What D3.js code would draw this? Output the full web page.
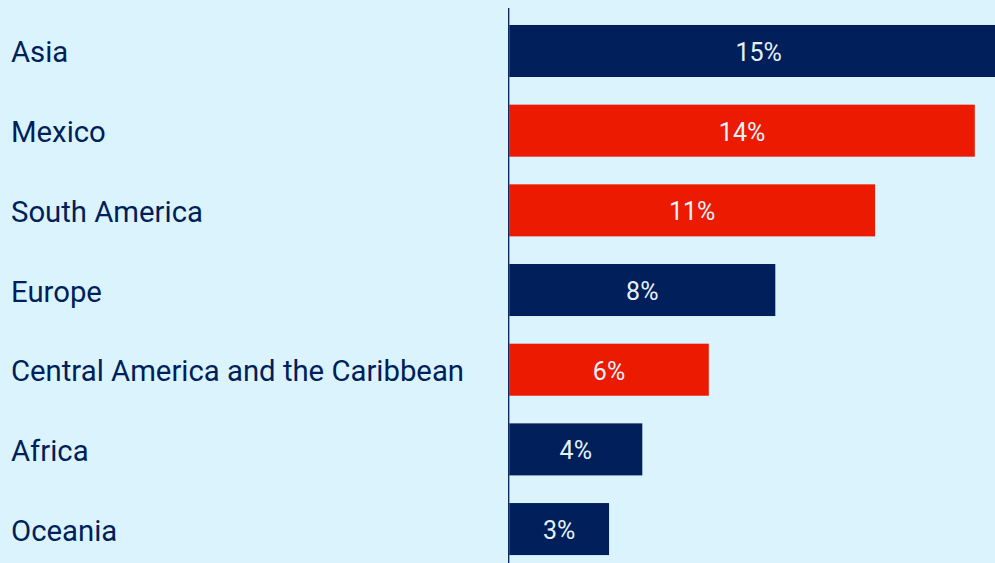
<!DOCTYPE html>
<html>
<head>
<meta charset="utf-8">
<script src="https://cdn.jsdelivr.net/npm/d3@7"></script>
<style>
  html, body { margin: 0; padding: 0; background: #dbf3fc; overflow: hidden; }
  svg { display: block; }
</style>
</head>
<body>
<svg id="chart" width="995" height="563"></svg>
<script>
// Share of total by region (%)
const regions = ["Asia", "Mexico", "South America", "Europe", "Central America and the Caribbean", "Africa", "Oceania"];
const shares = [15, 14, 11, 8, 6, 4, 3];
const highlight = [false, true, true, false, true, false, false];

const width = 995, height = 563;
const navy = "#001f5b", red = "#ec1a00", bg = "#dbf3fc", valueInk = "#e4f2fb";
const fontFamily = "Roboto, 'Noto Sans', sans-serif";

const svg = d3.select("#chart");
svg.append("rect").attr("width", width).attr("height", height).attr("fill", bg);

const x = d3.scaleLinear().domain([0, 1]).range([509.3, 509.3 + 33.25]);
const y = d3.scaleBand().domain(regions).range([11.16, 568.9]).paddingInner(0.347).paddingOuter(0.1735);

const rows = regions.map((r, i) => ({ region: r, value: shares[i], hi: highlight[i] }));

// bars (Asia runs past the right edge)
svg.append("g").selectAll("rect").data(rows).join("rect")
  .attr("x", x(0))
  .attr("y", d => y(d.region))
  .attr("width", d => x(d.value) - x(0))
  .attr("height", y.bandwidth())
  .attr("fill", d => d.hi ? red : navy);

// baseline
svg.append("line")
  .attr("x1", 508.7).attr("x2", 508.7)
  .attr("y1", 8).attr("y2", height)
  .attr("stroke", navy).attr("stroke-width", 1.3);

// category labels
svg.append("g").selectAll("text").data(rows).join("text")
  .attr("x", 11)
  .attr("y", d => y(d.region) + y.bandwidth() / 2 + 11.5)
  .attr("fill", navy)
  .attr("font-family", fontFamily)
  .attr("font-size", 29.3)
  .text(d => d.region);

// value labels, centred on the full bar length
svg.append("g").selectAll("text").data(rows).join("text")
  .attr("x", d => (x(0) + x(d.value)) / 2)
  .attr("y", d => y(d.region) + y.bandwidth() / 2 + 10)
  .attr("text-anchor", "middle")
  .attr("fill", valueInk)
  .attr("font-family", fontFamily)
  .attr("font-size", 25)
  .text(d => d.value + "%");
</script>
</body>
</html>
